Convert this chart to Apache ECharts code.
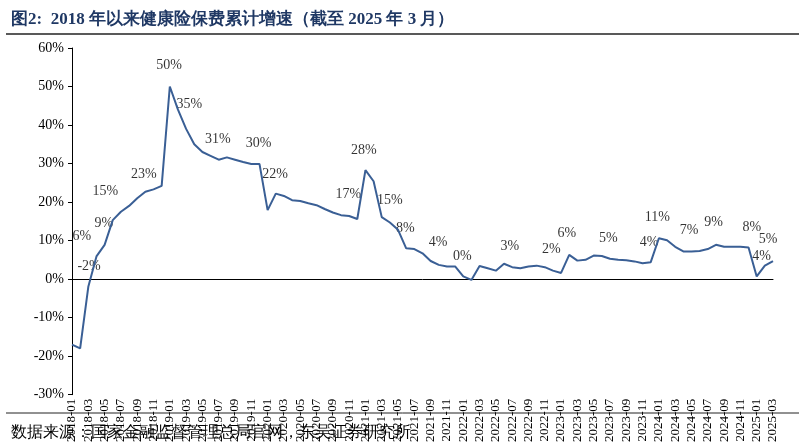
<!DOCTYPE html>
<html><head><meta charset="utf-8">
<script src="https://cdn.jsdelivr.net/npm/echarts@6/dist/echarts.min.js"></script>
<style>html,body{margin:0;padding:0;background:#fff}#c{width:805px;height:445px}</style>
</head><body><div id="c"></div>
<script>
const months = [];
for (let y = 2018; y <= 2025; y++) for (let m = 1; m <= 12; m++) { if (y === 2025 && m > 3) break; months.push(y + '-' + String(m).padStart(2, '0')); }
const growth = [-17,-18,-2,5.9,8.9,15.3,17.5,19,21,22.7,23.3,24.2,
 50,44,39,35,33,32,31,31.6,31,30.4,29.9,29.9,
 17.9,22.2,21.6,20.5,20.3,19.7,19.2,18.2,17.3,16.6,16.4,15.6,
 28.3,25.4,16.1,14.7,12.8,8,7.8,6.7,4.7,3.7,3.3,3.3,
 0.7,-0.2,3.4,2.8,2.2,4,3.1,2.8,3.3,3.5,3.1,2.2,
 1.6,6.3,4.8,5,6.1,6,5.3,5,4.9,4.6,4.1,4.4,
 10.6,10.1,8.4,7.2,7.2,7.3,7.8,8.9,8.4,8.4,8.4,8.2,
 0.7,3.5,4.7];
const labelTexts = ['6%','-2%','9%','15%','23%','50%','35%','31%','30%','22%','17%','28%','15%','8%','4%','0%','3%','2%','6%','5%','4%','11%','7%','9%','8%','5%','4%'];
const labelX = [1.2,2.1,3.9,4.1,8.8,11.9,14.4,17.9,22.9,24.9,33.9,35.8,39,40.9,44.9,47.9,53.7,58.8,60.7,65.8,70.8,71.8,75.7,78.7,83.4,85.4,84.6];
const labelY = [11.1,3.3,14.4,22.7,27.3,55.4,45.4,36.3,35.3,27.3,21.9,33.5,20.4,13.1,9.5,5.9,8.5,7.7,11.9,10.6,9.5,16,12.6,14.7,13.4,10.3,5.9];
const font = '"Liberation Serif","Times New Roman",serif';
const chart = echarts.init(document.getElementById('c'));
chart.setOption({
  animation:false,
  title:[{text:'图2:  2018 年以来健康险保费累计增速（截至 2025 年 3 月）',left:6,top:6,textStyle:{fontSize:17,fontWeight:'bold',color:'#1f3864',fontFamily:font}},
         {text:'数据来源：国家金融监督管理总局官网，东吴证券研究所',left:6,top:420,textStyle:{fontSize:16,fontWeight:'normal',color:'#000',fontFamily:font}}],
  graphic:[{type:'line',shape:{x1:6,y1:34,x2:799,y2:34},style:{stroke:'#222',lineWidth:1.5}},
           {type:'line',shape:{x1:6,y1:413,x2:799,y2:413},style:{stroke:'#222',lineWidth:1}}],
  grid:{left:72,right:32,top:48,bottom:48},
  xAxis:[{type:'category',data:months,boundaryGap:false,position:'bottom',
    axisLine:{onZero:true,lineStyle:{color:'#000'}},axisTick:{show:false},
    axisLabel:{interval:1,rotate:90,fontSize:13,color:'#000',fontFamily:font,margin:4}},
    {type:'value',min:0,max:months.length-1,show:false,position:'top'}],
  yAxis:{type:'value',min:-30,max:60,interval:10,
    axisLine:{show:true,lineStyle:{color:'#000'}},axisTick:{show:true,inside:false,length:4},
    splitLine:{show:false},
    axisLabel:{formatter:v=>v+'%',fontSize:14,color:'#000',fontFamily:font}},
  series:[
    {type:'line',data:growth,symbol:'none',lineStyle:{color:'#3a5f95',width:2},xAxisIndex:0},
    {type:'scatter',xAxisIndex:1,symbolSize:0,data:labelX.map((x,i)=>[x,labelY[i]]),
     label:{show:true,position:'inside',formatter:p=>labelTexts[p.dataIndex],fontSize:14,color:'#000',fontFamily:font}}
  ]
});
</script></body></html>
